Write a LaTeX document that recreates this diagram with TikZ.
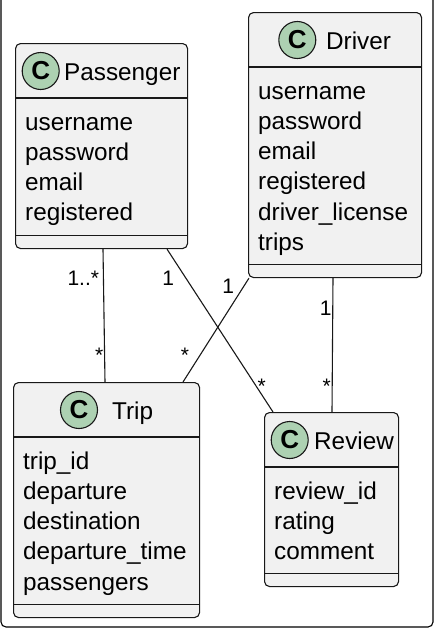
\documentclass[tikz,border=0pt]{standalone}
\usepackage{fontspec}
\setmainfont{Liberation Sans}
\usepackage{tikz}
\usetikzlibrary{calc}
\definecolor{umlline}{HTML}{181818}
\definecolor{umlfill}{HTML}{F1F1F1}
\definecolor{umlspot}{HTML}{ADD1B2}

\begin{document}
\begin{tikzpicture}[x=1pt, y=-1pt]
	\tikzstyle{cls}=[draw=umlline, fill=umlfill, rounded corners=5pt, line width=1.1pt,
	                        inner sep=0pt, anchor=north west];
	\tikzstyle{sep}=[draw=umlline, line width=1.1pt];
	\tikzstyle{spot}=[circle, draw=umlline, fill=umlspot, line width=1.1pt, minimum size=37pt,
	                        inner sep=0pt, font=\fontsize{26}{26}\selectfont\bfseries];
	\tikzstyle{title}=[anchor=base west, inner sep=0pt, font=\fontsize{24.3}{29}\selectfont];
	\tikzstyle{attr}=[anchor=base west, inner sep=0pt, font=\fontsize{24.3}{29}\selectfont];
	\tikzstyle{assoc}=[draw=umlline, line width=1.1pt];
	\tikzstyle{mult}=[anchor=base, inner sep=0pt, font=\fontsize{21}{21}\selectfont];
	\clip (0,0) rectangle (434,629);
	\draw[line width=1.1pt, rounded corners=5pt] (1,-10) rectangle (433,627);
	\node[cls, minimum width=172pt, minimum height=205pt] (passenger) at (15,43) {};
	\node[cls, minimum width=173pt, minimum height=265pt] (driver) at (248,12) {};
	\node[cls, minimum width=186pt, minimum height=235pt] (trip) at (13,382) {};
	\node[cls, minimum width=134pt, minimum height=174pt] (review) at (264,412) {};
	\foreach \c in {passenger, driver, trip, review}
	{\draw[sep] ($(\c.north west)+(0,55)$) -- ($(\c.north east)+(0,55)$);
	 \draw[sep] ($(\c.south west)+(0,-14)$) -- ($(\c.south east)+(0,-14)$);}
	\node[spot] (passenger-c) at ($(passenger.north west)+(25.7,28)$) {C};
	\node[title] (passenger-t) at ($(passenger.north west)+(49,37.2)$) {Passenger};
	\node[spot] (driver-c) at ($(driver.north west)+(49.3,28)$) {C};
	\node[title] (driver-t) at ($(driver.north west)+(78,37.2)$) {Driver};
	\node[spot] (trip-c) at ($(trip.north west)+(66,28)$) {C};
	\node[title] (trip-t) at ($(trip.north west)+(99,37.2)$) {Trip};
	\node[spot] (review-c) at ($(review.north west)+(25.7,28)$) {C};
	\node[title] (review-t) at ($(review.north west)+(50,37.2)$) {Review};
	\foreach \a [count=\i from 0] in {username, password, email, registered}
	{\node[attr] (passenger-a\i) at ($(passenger.north west)+(10,{87.3+30.2*\i})$) {\a};}
	\foreach \a [count=\i from 0] in {username, password, email, registered, driver\_license, trips}
	{\node[attr] (driver-a\i) at ($(driver.north west)+(10,{87.3+30.2*\i})$) {\a};}
	\foreach \a [count=\i from 0] in {trip\_id, departure, destination, departure\_time, passengers}
	{\node[attr] (trip-a\i) at ($(trip.north west)+(10,{87.3+30.2*\i})$) {\a};}
	\foreach \a [count=\i from 0] in {review\_id, rating, comment}
	{\node[attr] (review-a\i) at ($(review.north west)+(10,{87.3+30.2*\i})$) {\a};}
	\draw[assoc] ($(passenger.south west)+(88,0)$) -- ($(trip.north west)+(92,0)$);
	\draw[assoc] ($(passenger.south west)+(152,0)$) -- ($(review.north west)+(9,0)$);
	\draw[assoc] ($(driver.south west)+(1,0)$) -- ($(trip.north west)+(170,0)$);
	\draw[assoc] ($(driver.south west)+(85,0)$) -- ($(review.north west)+(68,0)$);
	\node[mult] (pt-from) at (83.3,285.7) {1..*};
	\node[mult] (pt-to) at (99.3,362.3) {*};
	\node[mult] (pr-from) at (168.3,285.7) {1};
	\node[mult] (pr-to) at (261.7,393) {*};
	\node[mult] (dt-from) at (228.3,293.3) {1};
	\node[mult] (dt-to) at (185,362.3) {*};
	\node[mult] (dr-from) at (325.7,315) {1};
	\node[mult] (dr-to) at (326.7,393) {*};
\end{tikzpicture}
\end{document}
